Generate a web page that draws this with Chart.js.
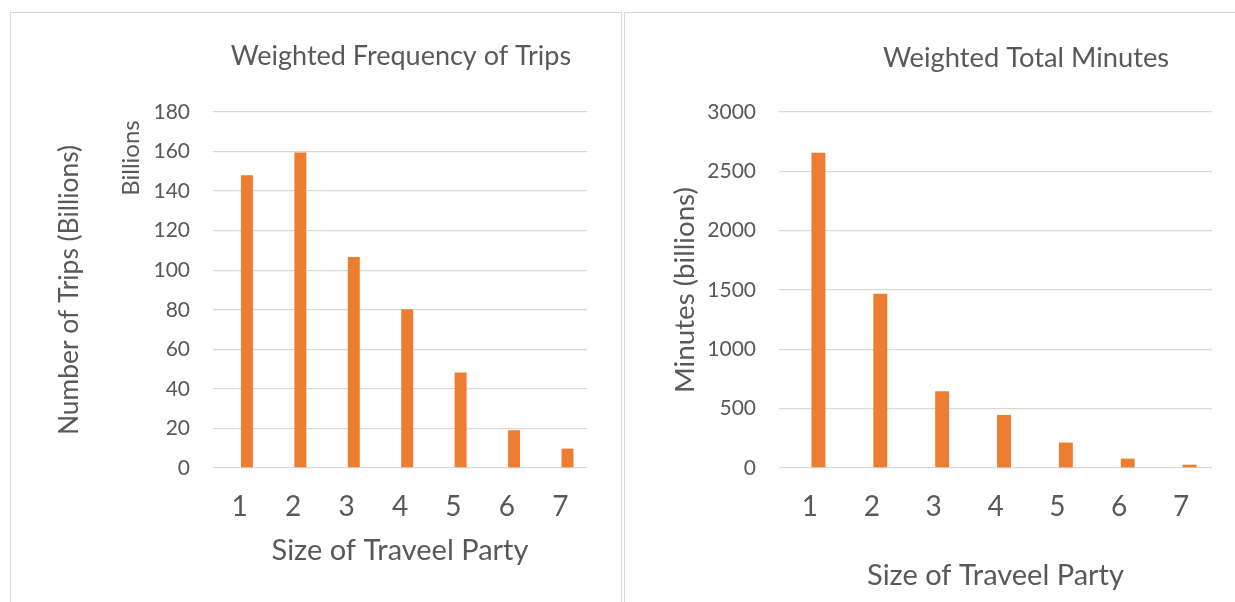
<!DOCTYPE html>
<html>
<head>
<meta charset="utf-8">
<script src="https://cdn.jsdelivr.net/npm/chart.js@4.4.0/dist/chart.umd.min.js"></script>
<style>
    body { margin: 0; background: #fff; width: 1235px; height: 602px; overflow: hidden; position: relative; }
    .panel { position: absolute; top: 12px; border: 1px solid #d9d9d9; height: 620px; }
    #leftPanel { left: 10px; width: 610px; }
    #rightPanel { left: 624px; width: 640px; border-right: none; }
    canvas { position: absolute; }
    #tripsChart { left: 10px; top: 15px; }
    #minutesChart { left: 624px; top: 15px; }
</style>
</head>
<body>
<div class="panel" id="leftPanel"></div>
<div class="panel" id="rightPanel"></div>
<canvas id="tripsChart" width="611" height="587"></canvas>
<canvas id="minutesChart" width="611" height="587"></canvas>
<script>
const partySizes = ['1', '2', '3', '4', '5', '6', '7'];
const tripsBillions = [148, 159.5, 106.7, 80.3, 48.3, 19.1, 9.8];
const minutesBillions = [2657, 1469, 647, 447, 214, 79, 28];

const textColor = '#595959';
const gridColor = '#d9d9d9';
const barColor = '#ED7D31';
const fontFamily = 'Lato';

// draws the chart title (and the "Billions" unit label) relative to the canvas
const panelText = {
    id: 'panelText',
    afterDraw(chart, args, opts) {
        const ctx = chart.ctx;
        ctx.save();
        ctx.fillStyle = textColor;
        ctx.textAlign = 'center';
        ctx.textBaseline = 'middle';
        ctx.font = opts.titleSize + 'px ' + fontFamily;
        ctx.fillText(opts.title, opts.titleX, opts.titleY);
        if (opts.unit) {
            ctx.translate(opts.unitX, opts.unitY);
            ctx.rotate(-Math.PI / 2);
            ctx.font = opts.unitSize + 'px ' + fontFamily;
            ctx.fillText(opts.unit, 0, 0);
        }
        ctx.restore();
    }
};

function makeChart(id, values, cfg) {
    const ctx = document.getElementById(id).getContext('2d');
    return new Chart(ctx, {
        type: 'bar',
        data: {
            labels: partySizes,
            datasets: [
                // the source workbook had an empty first series, which pushes the bars right of the tick
                { data: [], barPercentage: cfg.barPct, categoryPercentage: cfg.catPct },
                {
                    data: values,
                    backgroundColor: barColor,
                    barPercentage: cfg.barPct,
                    categoryPercentage: cfg.catPct
                }
            ]
        },
        options: {
            responsive: false,
            animation: false,
            layout: { padding: { top: cfg.top, right: cfg.right, left: 0, bottom: 0 } },
            plugins: {
                legend: { display: false },
                tooltip: { enabled: false },
                panelText: cfg.text
            },
            scales: {
                x: {
                    afterFit: s => { s.height = cfg.xHeight; },
                    grid: { display: false },
                    border: { display: false },
                    ticks: {
                        color: textColor,
                        font: { family: fontFamily, size: 28 },
                        padding: 14,
                        maxRotation: 0
                    },
                    title: {
                        display: true,
                        text: 'Size of Traveel Party',
                        color: textColor,
                        font: { family: fontFamily, size: 29 },
                        padding: { top: 0, bottom: cfg.xTitlePad }
                    }
                },
                y: {
                    min: 0,
                    max: cfg.max,
                    afterFit: s => { s.width = cfg.yWidth; },
                    grid: { color: gridColor, lineWidth: 1.3, drawTicks: false },
                    border: { display: false },
                    ticks: {
                        stepSize: cfg.step,
                        color: textColor,
                        font: { family: fontFamily, size: 21 },
                        padding: 23,
                        callback: v => String(v)
                    },
                    title: {
                        display: true,
                        text: cfg.yTitle,
                        color: textColor,
                        font: { family: fontFamily, size: cfg.yTitleSize },
                        padding: { top: 44, bottom: 0 }
                    }
                }
            }
        },
        plugins: [panelText]
    });
}

makeChart('tripsChart', tripsBillions, {
    top: 97, right: 34, yWidth: 203, xHeight: 134, max: 180, step: 20,
    catPct: 0.54, barPct: 0.83, xTitlePad: 34,
    yTitle: 'Number of Trips (Billions)', yTitleSize: 26.4,
    text: { title: 'Weighted Frequency of Trips', titleX: 391, titleY: 41, titleSize: 27,
            unit: 'Billions', unitX: 121, unitY: 143, unitSize: 24 }
});

makeChart('minutesChart', minutesBillions, {
    top: 97, right: 23, yWidth: 155, xHeight: 134, max: 3000, step: 500,
    catPct: 0.55, barPct: 0.82, xTitlePad: 9,
    yTitle: 'Minutes (billions)', yTitleSize: 27.7,
    text: { title: 'Weighted Total Minutes', titleX: 402, titleY: 43, titleSize: 27.3 }
});
</script>
</body>
</html>
